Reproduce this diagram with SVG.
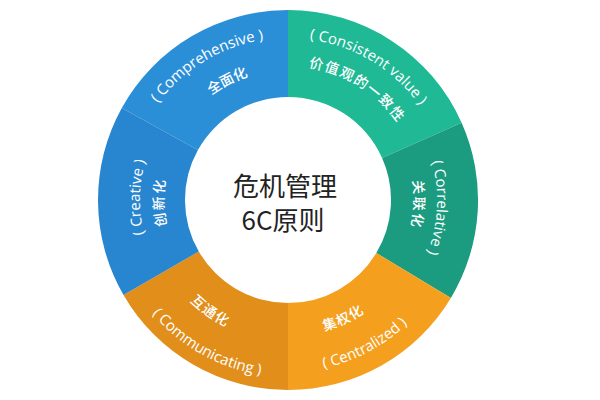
<svg xmlns="http://www.w3.org/2000/svg" width="600" height="400" viewBox="0 0 600 400">
<style>
.lbl{fill:#ffffff;font-family:"Open Sans","Noto Sans CJK SC",sans-serif;font-size:15px;}
.cn{fill:#ffffff;font-family:"Noto Sans CJK SC",sans-serif;font-size:14px;font-weight:500;}
.center{fill:#222222;font-family:"Noto Sans CJK SC",sans-serif;font-size:26px;text-anchor:middle;}
</style>
<defs>
<path id="pComp1" d="M136.8,258.1 A162,162 0 0 1 410.3,93.7"/>
<path id="pComp2" d="M163.7,238.0 A130,130 0 0 1 391.8,121.8"/>
<path id="pCons1" d="M165.7,93.7 A162,162 0 0 1 439.2,258.1"/>
<path id="pCons2" d="M188.4,110.3 A134,134 0 0 1 412.2,250.2"/>
<path id="pCorr1" d="M321.5,54.8 A149,149 0 0 1 306.2,347.9"/>
<path id="pCorr2" d="M314.2,76.8 A126,126 0 0 1 305.5,324.8"/>
<path id="pCent1" d="M152.5,305.9 A172,172 0 0 0 451.6,146.9"/>
<path id="pCent2" d="M176.6,278.0 A136,136 0 0 0 419.4,164.8"/>
<path id="pComm1" d="M121.2,140.9 A177,177 0 0 0 424.6,312.6"/>
<path id="pComm2" d="M160.2,140.4 A141,141 0 0 0 387.7,299.7"/>
<path id="pCrea1" d="M259.8,345.3 A148,148 0 0 1 264.9,53.8"/>
<path id="pCrea2" d="M268.6,322.5 A124,124 0 0 1 264.3,78.3"/>
</defs>
<rect width="600" height="400" fill="#ffffff"/>
<g id="connectors"/>
<g id="comprehensive">
<path d="M121.8,107.9 A190,190 0 0 1 288,10 L288,97 A103,103 0 0 0 197.9,150.1 Z" fill="#2b8fd8"/>
<text class="lbl"><textPath href="#pComp1" startOffset="50%" text-anchor="middle">( Comprehensive )</textPath></text>
<text class="cn"><textPath href="#pComp2" startOffset="50%" text-anchor="middle">全面化</textPath></text>
</g>
<g id="consistent">
<path d="M288,10 A190,190 0 0 1 461.6,122.7 L382.1,158.1 A103,103 0 0 0 288,97 Z" fill="#1fb995"/>
<text class="lbl"><textPath href="#pCons1" startOffset="50%" text-anchor="middle">( Consistent value )</textPath></text>
<text class="cn" letter-spacing="1.5"><textPath href="#pCons2" startOffset="50%" text-anchor="middle">价值观的一致性</textPath></text>
</g>
<g id="correlative">
<path d="M461.6,122.7 A190,190 0 0 1 450.9,297.9 L376.3,253.0 A103,103 0 0 0 382.1,158.1 Z" fill="#1b9c80"/>
<text class="lbl"><textPath href="#pCorr1" startOffset="50%" text-anchor="middle">( Correlative )</textPath></text>
<text class="cn" letter-spacing="2"><textPath href="#pCorr2" startOffset="50%" text-anchor="middle">关联化</textPath></text>
</g>
<g id="centralized">
<path d="M450.9,297.9 A190,190 0 0 1 288,390 L288,303 A103,103 0 0 0 376.3,253.0 Z" fill="#f4a01e"/>
<text class="lbl"><textPath href="#pCent1" startOffset="50%" text-anchor="middle">( Centralized )</textPath></text>
<text class="cn" letter-spacing="1"><textPath href="#pCent2" startOffset="50%" text-anchor="middle">集权化</textPath></text>
</g>
<g id="communicating">
<path d="M288,390 A190,190 0 0 1 123.5,295 L198.8,251.5 A103,103 0 0 0 288,303 Z" fill="#e18e1b"/>
<text class="lbl"><textPath href="#pComm1" startOffset="50%" text-anchor="middle">( Communicating )</textPath></text>
<text class="cn" letter-spacing="1"><textPath href="#pComm2" startOffset="50%" text-anchor="middle">互通化</textPath></text>
</g>
<g id="creative">
<path d="M123.5,295 A190,190 0 0 1 121.8,107.9 L197.9,150.1 A103,103 0 0 0 198.8,251.5 Z" fill="#2786cf"/>
<text class="lbl"><textPath href="#pCrea1" startOffset="50%" text-anchor="middle">( Creative )</textPath></text>
<text class="cn" letter-spacing="2"><textPath href="#pCrea2" startOffset="50%" text-anchor="middle">创新化</textPath></text>
</g>
<g id="center">
<text class="center" x="285" y="196">危机管理</text>
<text class="center" x="283" y="230">6C原则</text>
</g>
</svg>
